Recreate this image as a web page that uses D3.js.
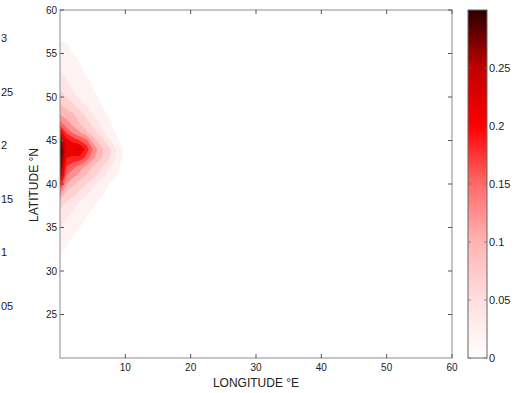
<!DOCTYPE html>
<html>
<head>
<meta charset="utf-8">
<script src="https://cdn.jsdelivr.net/npm/d3@7"></script>
<style>
  body { margin: 0; background: #fff; }
  text { font-family: "Liberation Sans", Arial, sans-serif; fill: #222; }
</style>
</head>
<body>
<svg id="chart" width="523" height="393"></svg>
<script>
// grid axes of the density field
const lons = [0, 1, 2, 3, 4, 5, 6, 7, 8, 9, 10, 11];
const lats = [30, 31, 32, 33, 34, 35, 36, 37, 38, 39, 40, 41, 42, 43, 44, 45, 46, 47, 48, 49, 50, 51, 52, 53, 54, 55, 56, 57, 58];

// density, one row per latitude (30 -> 58), one column per longitude (0 -> 11)
const density = [
  [0, 0, 0, 0, 0, 0, 0, 0, 0, 0, 0, 0],
  [0.006, 0, 0, 0, 0, 0, 0, 0, 0, 0, 0, 0],
  [0.012, 0.006, 0, 0, 0, 0, 0, 0, 0, 0, 0, 0],
  [0.016, 0.01, 0.005, 0, 0, 0, 0, 0, 0, 0, 0, 0],
  [0.022, 0.015, 0.01, 0.005, 0, 0, 0, 0, 0, 0, 0, 0],
  [0.03, 0.022, 0.015, 0.01, 0.005, 0, 0, 0, 0, 0, 0, 0],
  [0.04, 0.03, 0.022, 0.015, 0.01, 0.004, 0, 0, 0, 0, 0, 0],
  [0.05, 0.04, 0.03, 0.022, 0.015, 0.009, 0.003, 0, 0, 0, 0, 0],
  [0.07, 0.05, 0.04, 0.03, 0.021, 0.015, 0.008, 0.002, 0, 0, 0, 0],
  [0.13, 0.075, 0.06, 0.046, 0.035, 0.025, 0.016, 0.008, 0.002, 0, 0, 0],
  [0.2, 0.11, 0.085, 0.065, 0.05, 0.035, 0.024, 0.014, 0.006, 0.001, 0, 0],
  [0.27, 0.14, 0.12, 0.1, 0.08, 0.06, 0.045, 0.03, 0.017, 0.008, 0, 0],
  [0.29, 0.17, 0.15, 0.13, 0.1, 0.08, 0.06, 0.04, 0.025, 0.012, 0.002, 0],
  [0.3, 0.2, 0.19, 0.19, 0.16, 0.12, 0.09, 0.065, 0.04, 0.018, 0.003, 0],
  [0.3, 0.22, 0.23, 0.24, 0.19, 0.14, 0.1, 0.07, 0.045, 0.02, 0.004, 0],
  [0.28, 0.21, 0.19, 0.17, 0.15, 0.1, 0.07, 0.045, 0.025, 0.01, 0, 0],
  [0.22, 0.16, 0.13, 0.11, 0.085, 0.06, 0.04, 0.025, 0.013, 0.004, 0, 0],
  [0.15, 0.12, 0.1, 0.08, 0.06, 0.045, 0.03, 0.018, 0.009, 0.002, 0, 0],
  [0.11, 0.095, 0.085, 0.06, 0.045, 0.032, 0.02, 0.012, 0.005, 0, 0, 0],
  [0.085, 0.07, 0.055, 0.04, 0.03, 0.02, 0.012, 0.006, 0.002, 0, 0, 0],
  [0.065, 0.05, 0.035, 0.027, 0.02, 0.014, 0.009, 0.004, 0, 0, 0, 0],
  [0.045, 0.036, 0.028, 0.021, 0.015, 0.01, 0.005, 0.001, 0, 0, 0, 0],
  [0.035, 0.03, 0.024, 0.018, 0.012, 0.008, 0.003, 0, 0, 0, 0, 0],
  [0.03, 0.025, 0.02, 0.013, 0.008, 0.003, 0, 0, 0, 0, 0, 0],
  [0.025, 0.02, 0.015, 0.01, 0.004, 0, 0, 0, 0, 0, 0, 0],
  [0.02, 0.016, 0.01, 0.004, 0, 0, 0, 0, 0, 0, 0, 0],
  [0.015, 0.012, 0.005, 0, 0, 0, 0, 0, 0, 0, 0, 0],
  [0.005, 0, 0, 0, 0, 0, 0, 0, 0, 0, 0, 0],
  [0, 0, 0, 0, 0, 0, 0, 0, 0, 0, 0, 0]
];

const levels = [0.01, 0.03, 0.05, 0.08, 0.11, 0.14, 0.17, 0.2, 0.23, 0.26, 0.29];

const xTicks = [10, 20, 30, 40, 50, 60];
const yTicks = [25, 30, 35, 40, 45, 50, 55, 60];
const cbTicks = [0, 0.05, 0.1, 0.15, 0.2, 0.25];
// clipped labels left over from another colorbar on the left edge
const strayLabels = ["3", "25", "2", "15", "1", "05"];

const svg = d3.select("#chart");
const axisColor = "#8c8c8c";

const x = d3.scaleLinear().domain([0, 60]).range([60, 452]);
const y = d3.scaleLinear().domain([20, 60]).range([358, 10]);

// white -> red -> near black
const color = d3.scaleLinear()
  .domain([0, 0.05, 0.1, 0.15, 0.2, 0.25, 0.3])
  .range(["#ffffff", "#ffdede", "#ffb4b4", "#ff6a6a", "#ff0000", "#c00000", "#2a0000"])
  .clamp(true);

svg.append("clipPath").attr("id", "plotclip")
  .append("rect")
  .attr("x", x(0)).attr("y", y(60))
  .attr("width", x(60) - x(0)).attr("height", y(20) - y(60));

// filled contours
const contours = d3.contours()
  .size([lons.length, lats.length])
  .thresholds(levels)(density.flat());

const proj = d3.geoTransform({
  point: function(px, py) {
    this.stream.point(x(lons[0] + (px - 0.5)), y(lats[0] + (py - 0.5)));
  }
});
const path = d3.geoPath(proj);

svg.append("g")
  .attr("clip-path", "url(#plotclip)")
  .selectAll("path")
  .data(contours)
  .enter()
  .append("path")
  .attr("d", path)
  .attr("fill", (d, i) => color(i < levels.length - 1 ? (levels[i] + levels[i + 1]) / 2 : d.value + 0.01));

// frame
svg.append("rect")
  .attr("x", x(0)).attr("y", y(60))
  .attr("width", x(60) - x(0)).attr("height", y(20) - y(60))
  .attr("fill", "none").attr("stroke", axisColor);

// x ticks (inside, bottom and top)
const gx = svg.append("g");
gx.selectAll("line.b").data(xTicks).enter().append("line")
  .attr("x1", d => x(d)).attr("x2", d => x(d))
  .attr("y1", y(20)).attr("y2", y(20) - 4)
  .attr("stroke", "#555");
gx.selectAll("line.t").data(xTicks).enter().append("line")
  .attr("x1", d => x(d)).attr("x2", d => x(d))
  .attr("y1", y(60)).attr("y2", y(60) + 4)
  .attr("stroke", "#555");
gx.selectAll("text").data(xTicks).enter().append("text")
  .attr("x", d => x(d)).attr("y", 371)
  .attr("text-anchor", "middle")
  .style("font-size", "10px")
  .text(d => d);

// y ticks (inside, left and right)
const gy = svg.append("g");
gy.selectAll("line.l").data(yTicks).enter().append("line")
  .attr("x1", x(0)).attr("x2", x(0) + 4)
  .attr("y1", d => y(d)).attr("y2", d => y(d))
  .attr("stroke", "#555");
gy.selectAll("line.r").data(yTicks).enter().append("line")
  .attr("x1", x(60)).attr("x2", x(60) - 4)
  .attr("y1", d => y(d)).attr("y2", d => y(d))
  .attr("stroke", "#555");
gy.selectAll("text").data(yTicks).enter().append("text")
  .attr("x", 57).attr("y", d => y(d) + 3.5)
  .attr("text-anchor", "end")
  .style("font-size", "10px")
  .text(d => d);

// axis titles
svg.append("text")
  .attr("x", 256).attr("y", 387)
  .attr("text-anchor", "middle")
  .style("font-size", "12px")
  .text("LONGITUDE °E");
svg.append("text")
  .attr("transform", "translate(38,185) rotate(-90)")
  .attr("text-anchor", "middle")
  .style("font-size", "12px")
  .text("LATITUDE °N");

// colorbar
const cbX = 468, cbW = 19;
const cy = d3.scaleLinear().domain([0, 0.3]).range([358, 10]);
const grad = svg.append("defs").append("linearGradient")
  .attr("id", "cbgrad")
  .attr("x1", 0).attr("y1", 1).attr("x2", 0).attr("y2", 0);
grad.selectAll("stop").data(color.domain()).enter().append("stop")
  .attr("offset", d => d / 0.3)
  .attr("stop-color", d => color(d));
svg.append("rect")
  .attr("x", cbX).attr("y", cy(0.3))
  .attr("width", cbW).attr("height", cy(0) - cy(0.3))
  .attr("fill", "url(#cbgrad)")
  .attr("stroke", "#666");
const gc = svg.append("g");
gc.selectAll("line.l").data(cbTicks).enter().append("line")
  .attr("x1", cbX).attr("x2", cbX + 3)
  .attr("y1", d => cy(d)).attr("y2", d => cy(d))
  .attr("stroke", "#666").attr("stroke-opacity", 0.6);
gc.selectAll("line.r").data(cbTicks).enter().append("line")
  .attr("x1", cbX + cbW).attr("x2", cbX + cbW - 3)
  .attr("y1", d => cy(d)).attr("y2", d => cy(d))
  .attr("stroke", "#666").attr("stroke-opacity", 0.6);
gc.selectAll("text").data(cbTicks).enter().append("text")
  .attr("x", cbX + cbW + 2).attr("y", d => cy(d) + 4)
  .style("font-size", "11px")
  .text(d => d);

// stray labels at the left edge
svg.append("g").selectAll("text").data(strayLabels).enter().append("text")
  .attr("x", 1).attr("y", (d, i) => 42 + i * 53.6)
  .style("font-size", "11px")
  .text(d => d);
</script>
</body>
</html>
